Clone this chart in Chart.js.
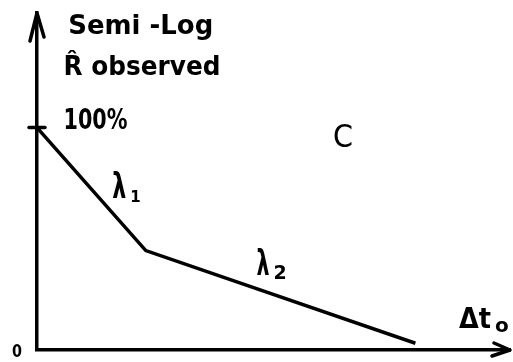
<!DOCTYPE html>
<html>
<head>
<meta charset="utf-8">
<script src="https://cdn.jsdelivr.net/npm/chart.js@4/dist/chart.umd.min.js"></script>
<style>
  html, body { margin: 0; padding: 0; background: #fff; }
  canvas { display: block; }
</style>
</head>
<body>
<canvas id="sketch" width="513" height="362"></canvas>
<script>
// --- data ---
const elapsed = [0, 23, 80];          // Δt0, arbitrary units (0..100)
const observed = [66, 29.5, 2];       // R̂ on the semi-log axis
const tickValues = [66];              // the "100%" mark
const tickLabels = ['100%'];

// text annotations, placed in data units
const notes = [
    { text: 'Semi -Log', x: 6.6, y: 93.8, size: 26, width: 145 },
    { text: 'R\u0302 observed', x: 5.6, y: 81.6, size: 26, width: 157 },
    { text: 'C', x: 62.6, y: 60.2, size: 32, width: 20, weight: 'normal' },
    { text: 'λ', x: 15.9, y: 45.1, size: 36, width: 14, sub: '1', subSize: 15 },
    { text: 'λ', x: 46.4, y: 22.3, size: 36, width: 13, sub: '2', subSize: 19 },
    { text: 'Δt', x: 89.2, y: 6.5, size: 29, width: 32, sub: 'o', subSize: 20 },
    { text: '0', x: -5.3, y: -2.1, size: 18, width: 10 }
];

const INK = '#000';
const FONT = "'DejaVu Sans', sans-serif";

const sketchPlugin = {
    id: 'sketch',
    afterDraw(chart) {
        const { ctx, chartArea: a, scales: { x, y } } = chart;
        ctx.save();
        ctx.strokeStyle = INK;
        ctx.fillStyle = INK;
        ctx.lineWidth = 3.5;
        ctx.lineCap = 'round';
        ctx.lineJoin = 'round';

        // arrow heads
        ctx.beginPath();
        ctx.moveTo(a.left - 7, a.top + 28);
        ctx.lineTo(a.left, a.top);
        ctx.lineTo(a.left + 7, a.top + 24);
        ctx.moveTo(a.right - 16, a.bottom - 7);
        ctx.lineTo(a.right, a.bottom);
        ctx.lineTo(a.right - 18, a.bottom + 6);
        ctx.stroke();

        // "100%" tick across the y axis
        tickValues.forEach((v, i) => {
            const py = y.getPixelForValue(v);
            ctx.beginPath();
            ctx.moveTo(a.left - 8, py);
            ctx.lineTo(a.left + 8, py);
            ctx.stroke();
            ctx.font = 'bold 29px ' + FONT;
            ctx.textBaseline = 'alphabetic';
            ctx.fillText(tickLabels[i], x.getPixelForValue(5.6), py + 1, 64);
        });

        // labels
        ctx.textBaseline = 'alphabetic';
        notes.forEach(n => {
            const px = x.getPixelForValue(n.x);
            const py = y.getPixelForValue(n.y);
            ctx.font = (n.weight || 'bold') + ' ' + n.size + 'px ' + FONT;
            ctx.fillText(n.text, px, py, n.width);
            if (n.sub) {
                const w = Math.min(ctx.measureText(n.text).width, n.width);
                ctx.font = 'bold ' + n.subSize + 'px ' + FONT;
                ctx.fillText(n.sub, px + w + 4, py + 4);
            }
        });
        ctx.restore();
    }
};

new Chart(document.getElementById('sketch'), {
    type: 'scatter',
    data: {
        datasets: [{
            data: elapsed.map((t, i) => ({ x: t, y: observed[i] })),
            showLine: true,
            borderColor: INK,
            borderWidth: 3.5,
            pointRadius: 0,
            tension: 0
        }]
    },
    options: {
        responsive: false,
        animation: false,
        layout: { padding: { left: 29, top: 13, right: 3, bottom: 4 } },
        plugins: {
            legend: { display: false },
            tooltip: { enabled: false }
        },
        scales: {
            x: {
                min: 0, max: 100,
                ticks: { display: false },
                grid: { display: false },
                border: { display: true, color: INK, width: 3.5 }
            },
            y: {
                min: 0, max: 100,
                ticks: { display: false },
                grid: { display: false },
                border: { display: true, color: INK, width: 3.5 }
            }
        }
    },
    plugins: [sketchPlugin]
});
</script>
</body>
</html>
